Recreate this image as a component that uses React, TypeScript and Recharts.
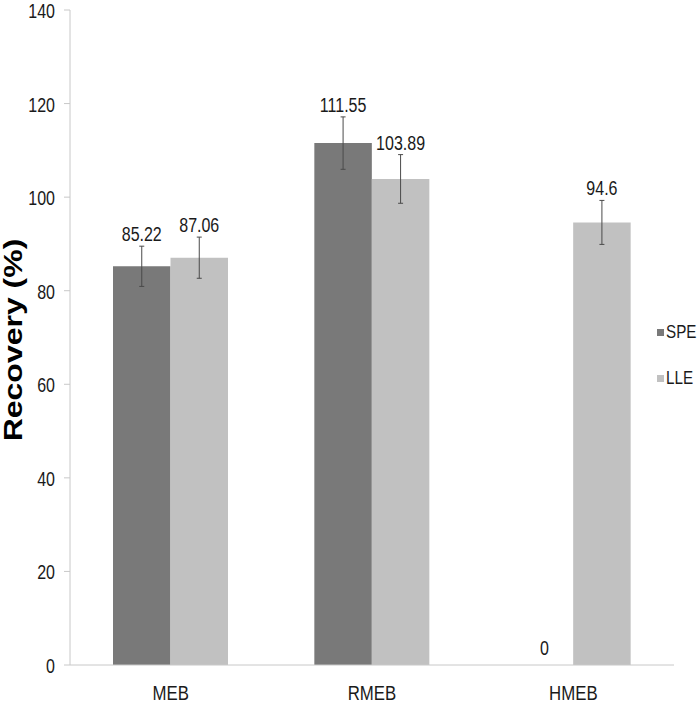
import { BarChart, Bar, XAxis, YAxis, ErrorBar, LabelList } from 'recharts'

const categories = ['MEB', 'RMEB', 'HMEB']
const speValues = [85.22, 111.55, 0]
const lleValues = [87.06, 103.89, 94.6]
const speErrors = [4.3, 5.6, null]
const lleErrors = [4.4, 5.2, 4.7]
const yTicks = [0, 20, 40, 60, 80, 100, 120, 140]
const edgeTicks = [0, 1, 2, 3]

const series = [
  { key: 'spe', name: 'SPE', color: '#797979', values: speValues, errors: speErrors },
  { key: 'lle', name: 'LLE', color: '#c1c1c1', values: lleValues, errors: lleErrors },
]

const data = categories.map((cat, i) => ({
  cat,
  spe: speValues[i],
  lle: lleValues[i],
  speErr: speErrors[i],
  lleErr: lleErrors[i],
}))

const FONT = "'Liberation Sans', Arial, sans-serif"
const AXIS = '#c8c8c8'
const TEXT = '#1a1a1a'
const SQUEEZE = 0.8

// the source figure is squashed horizontally, so text is drawn narrow
function NarrowText({ x, y, anchor, size, dy, children }: any) {
  return (
    <text
      transform={`translate(${x}, ${y}) scale(${SQUEEZE}, 1)`}
      textAnchor={anchor}
      dy={dy}
      fontSize={size}
      fontFamily={FONT}
      fill={TEXT}
    >
      {children}
    </text>
  )
}

const YTick = (props: any) => (
  <NarrowText x={props.x} y={props.y} anchor="end" size={20} dy="0.4em">
    {props.payload.value}
  </NarrowText>
)

const XTick = (props: any) => (
  <NarrowText x={props.x} y={props.y} anchor="middle" size={21} dy="0.72em">
    {props.payload.value}
  </NarrowText>
)

// value label sitting just above the error bar
function makeLabel(errors: (number | null)[]) {
  return (props: any) => {
    const { x, y, width, height, value, index } = props
    const v = Number(value)
    const err = errors[index] ?? 0
    const pxPerUnit = v > 0 ? height / v : 0
    const gap = v === 0 ? 10 : 5
    return (
      <NarrowText x={x + width / 2} y={y - err * pxPerUnit - gap} anchor="middle" size={20}>
        {String(value)}
      </NarrowText>
    )
  }
}

export default function App() {
  return (
    <div style={{ position: 'absolute', left: 0, top: 0, width: 700, height: 704, background: '#fff' }}>
      <BarChart width={700} height={704} data={data} margin={{ top: 10, right: 26, bottom: 0, left: 0 }} barGap={0} barSize={57.5}>
        <XAxis
          xAxisId="edge"
          type="number"
          domain={[0, 3]}
          ticks={edgeTicks}
          tick={false}
          axisLine={false}
          tickLine={{ stroke: AXIS }}
          tickSize={7}
          height={0}
        />
        <XAxis
          dataKey="cat"
          axisLine={{ stroke: AXIS }}
          tickLine={false}
          tickSize={7}
          tickMargin={13}
          height={39}
          tick={<XTick />}
        />
        <YAxis
          domain={[0, 140]}
          ticks={yTicks}
          width={70}
          axisLine={{ stroke: AXIS }}
          tickLine={{ stroke: AXIS }}
          tickSize={6}
          tickMargin={9}
          tick={<YTick />}
          label={{
            value: 'Recovery (%)',
            content: () => (
              <text
                transform="translate(13, 340) scale(0.8, 1) rotate(-90)"
                textAnchor="middle"
                dominantBaseline="central"
                fontSize={32}
                fontWeight="bold"
                fontFamily={FONT}
                fill="#000"
              >
                Recovery (%)
              </text>
            ),
          }}
        />
        {series.map((s) => (
          <Bar key={s.key} dataKey={s.key} name={s.name} fill={s.color} minPointSize={0.01} isAnimationActive={false}>
            <ErrorBar dataKey={`${s.key}Err`} width={2.5} stroke="#4a4a4a" strokeWidth={1} direction="y" />
            <LabelList dataKey={s.key} content={makeLabel(s.errors)} />
          </Bar>
        ))}
      </BarChart>
      <div style={{ position: 'absolute', left: 657, top: 318, fontFamily: FONT, fontSize: 19, color: TEXT }}>
        {series.map((s) => (
          <div key={s.key} style={{ display: 'flex', alignItems: 'center', height: 28, marginBottom: 18 }}>
            <span style={{ width: 7, height: 7, background: s.color, marginRight: 2 }} />
            <span style={{ display: 'inline-block', transform: `scaleX(${SQUEEZE})`, transformOrigin: 'left center' }}>{s.name}</span>
          </div>
        ))}
      </div>
    </div>
  )
}
